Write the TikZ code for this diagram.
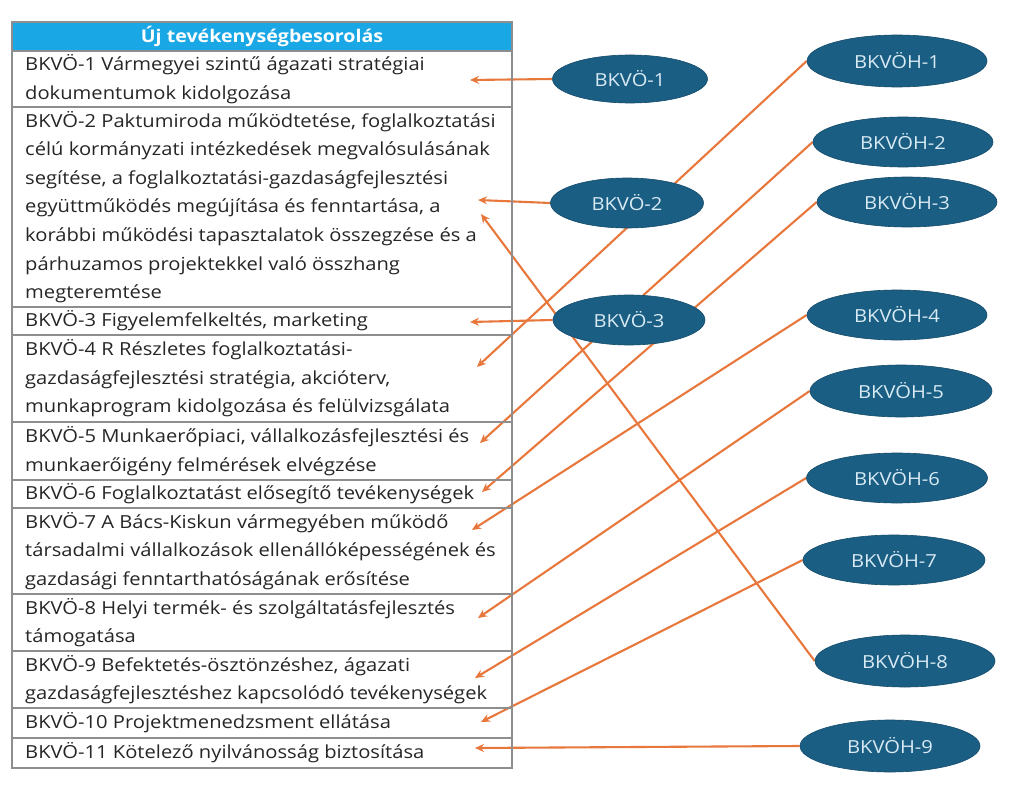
\documentclass[tikz,border=0pt]{standalone}
\usepackage{fontspec}
\setmainfont[FakeStretch=1.12]{Open Sans}
\usetikzlibrary{shapes.geometric,arrows.meta}
\pgfdeclarelayer{bg}
\pgfsetlayers{bg,main}
\definecolor{hdr}{HTML}{1AA7E6}
\definecolor{ell}{HTML}{1A5E84}
\definecolor{elltxt}{HTML}{D8EAF3}
\definecolor{lnk}{HTML}{E8773C}
\definecolor{brd}{HTML}{8E8E8E}
\definecolor{txt}{HTML}{262626}
\tikzset{
  rowbox/.style={draw=brd, line width=1.3pt, minimum width=500pt, inner sep=0pt, anchor=center},
  hdrbox/.style={fill=hdr, draw=brd, line width=1.3pt, minimum width=500pt, minimum height=29pt, inner sep=0pt,
    text=white, font=\fontsize{17.5}{19}\selectfont\bfseries},
  rowtext/.style={anchor=west, align=left, inner sep=0pt, text=txt, font=\fontsize{18}{28.6}\selectfont},
  oval/.style={ellipse, fill=ell, draw=ell!80!black, line width=0.6pt, inner sep=0pt, text=elltxt, font=\fontsize{18}{20}\selectfont},
  link/.style={draw=lnk, line width=2.1pt, -{Stealth[length=9pt,width=8pt]}}
}
\begin{document}
\begin{tikzpicture}[x=1pt,y=-1pt]
\begin{pgfonlayer}{bg}
\fill[white] (0,0) rectangle (1021,792);
\end{pgfonlayer}
\useasboundingbox (0,0) rectangle (1021,792);
% table
\node[hdrbox] (hd) at (262,36.5) {Új tevékenységbesorolás};
\node[rowbox, minimum height=56pt] (r1) at (262,79) {};
\node[rowbox, minimum height=200pt] (r2) at (262,207) {};
\node[rowbox, minimum height=28pt] (r3) at (262,321) {};
\node[rowbox, minimum height=87pt] (r4) at (262,378.5) {};
\node[rowbox, minimum height=58pt] (r5) at (262,451) {};
\node[rowbox, minimum height=28pt] (r6) at (262,494) {};
\node[rowbox, minimum height=86pt] (r7) at (262,551) {};
\node[rowbox, minimum height=57pt] (r8) at (262,622.5) {};
\node[rowbox, minimum height=57pt] (r9) at (262,679.5) {};
\node[rowbox, minimum height=30pt] (r10) at (262,723) {};
\node[rowbox, minimum height=30pt] (r11) at (262,753) {};
\node[rowtext] (x1) at (25,79) {BKVÖ-1 Vármegyei szintű ágazati stratégiai\\dokumentumok kidolgozása};
\node[rowtext] (x2) at (25,207) {BKVÖ-2 Paktumiroda működtetése, foglalkoztatási\\célú kormányzati intézkedések megvalósulásának\\segítése, a foglalkoztatási-gazdaságfejlesztési\\együttműködés megújítása és fenntartása, a\\korábbi működési tapasztalatok összegzése és a\\párhuzamos projektekkel való összhang\\megteremtése};
\node[rowtext] (x3) at (25,321) {BKVÖ-3 Figyelemfelkeltés, marketing};
\node[rowtext] (x4) at (25,378.5) {BKVÖ-4 R Részletes foglalkoztatási-\\gazdaságfejlesztési stratégia, akcióterv,\\munkaprogram kidolgozása és felülvizsgálata};
\node[rowtext] (x5) at (25,451) {BKVÖ-5 Munkaerőpiaci, vállalkozásfejlesztési és\\munkaerőigény felmérések elvégzése};
\node[rowtext] (x6) at (25,494) {BKVÖ-6 Foglalkoztatást elősegítő tevékenységek};
\node[rowtext] (x7) at (25,551) {BKVÖ-7 A Bács-Kiskun vármegyében működő\\társadalmi vállalkozások ellenállóképességének és\\gazdasági fenntarthatóságának erősítése};
\node[rowtext] (x8) at (25,622.5) {BKVÖ-8 Helyi termék- és szolgáltatásfejlesztés\\támogatása};
\node[rowtext] (x9) at (25,679.5) {BKVÖ-9 Befektetés-ösztönzéshez, ágazati\\gazdaságfejlesztéshez kapcsolódó tevékenységek};
\node[rowtext] (x10) at (25,723) {BKVÖ-10 Projektmenedzsment ellátása};
\node[rowtext] (x11) at (25,753) {BKVÖ-11 Kötelező nyilvánosság biztosítása};
% arrow tips
\coordinate (t1) at (470,80);
\coordinate (t2) at (478,200);
\coordinate (t2b) at (481,214);
\coordinate (t3) at (470,322);
\coordinate (t4) at (477,367);
\coordinate (t5) at (480,443);
\coordinate (t6) at (482,492);
\coordinate (t7) at (472,530);
\coordinate (t8) at (478,618);
\coordinate (t9) at (475,678);
\coordinate (t10) at (481,722);
\coordinate (t11) at (475,748);
% ellipses
\node[oval, minimum width=155pt, minimum height=48pt] (v1) at (630,79) {BKVÖ-1};
\node[oval, minimum width=153pt, minimum height=50pt] (v2) at (627,203) {BKVÖ-2};
\node[oval, minimum width=152pt, minimum height=50pt] (v3) at (629,320) {BKVÖ-3};
\node[oval, minimum width=180pt, minimum height=52pt] (h1) at (897,61) {BKVÖH-1};
\node[oval, minimum width=180pt, minimum height=50pt] (h2) at (903,142) {BKVÖH-2};
\node[oval, minimum width=180pt, minimum height=50pt] (h3) at (907,202) {BKVÖH-3};
\node[oval, minimum width=180pt, minimum height=50pt] (h4) at (897,315) {BKVÖH-4};
\node[oval, minimum width=182pt, minimum height=52pt] (h5) at (901,391) {BKVÖH-5};
\node[oval, minimum width=181pt, minimum height=50pt] (h6) at (897,478) {BKVÖH-6};
\node[oval, minimum width=182pt, minimum height=50pt] (h7) at (894,560) {BKVÖH-7};
\node[oval, minimum width=180pt, minimum height=52pt] (h8) at (905,661) {BKVÖH-8};
\node[oval, minimum width=180pt, minimum height=52pt] (h9) at (890,746) {BKVÖH-9};
% connectors
\begin{pgfonlayer}{bg}
\draw[link] (v1.west) -- (t1);
\draw[link] (v2.west) -- (t2);
\draw[link] (v3.west) -- (t3);
\draw[link] (h1.west) -- (t4);
\draw[link] (h2.west) -- (t5);
\draw[link] (h3.west) -- (t6);
\draw[link] (h4.west) -- (t7);
\draw[link] (h5.west) -- (t8);
\draw[link] (h6.west) -- (t9);
\draw[link] (h7.west) -- (t10);
\draw[link] (h8.west) -- (t2b);
\draw[link] (h9.west) -- (t11);
\end{pgfonlayer}
\end{tikzpicture}
\end{document}
